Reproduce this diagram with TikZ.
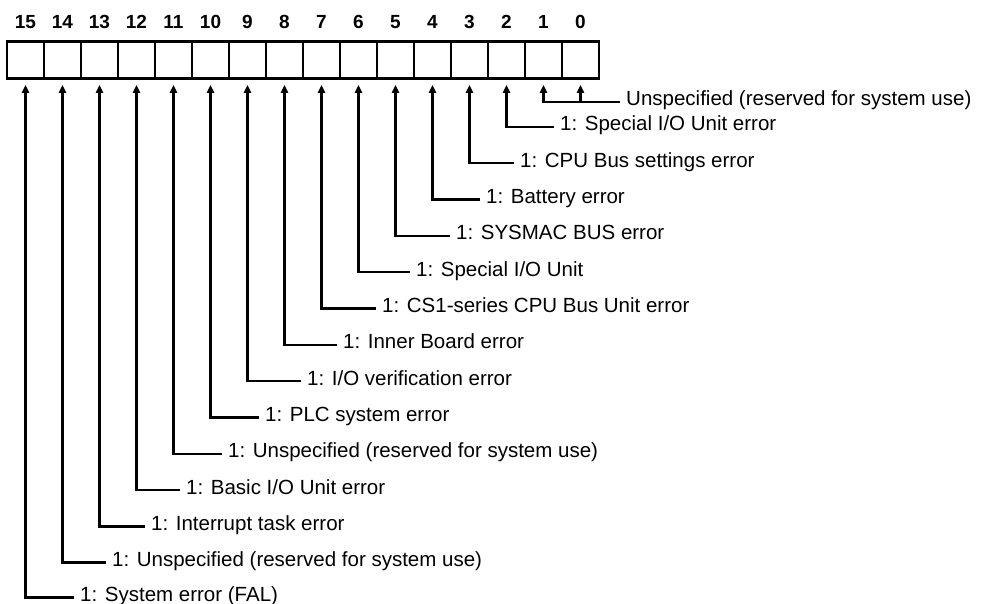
\documentclass[tikz,border=0pt]{standalone}
\usepackage{fontspec}
\setmainfont{Liberation Sans}
\usetikzlibrary{positioning, arrows.meta}
\tikzset{
	>={Triangle[length=8pt,width=7pt]},
	bitbox/.style={draw, line width=2.6pt, minimum width=37pt, minimum height=37pt, inner sep=0pt},
	bitnum/.style={font=\fontsize{19}{22}\selectfont\bfseries, inner sep=0pt},
	lbl/.style={anchor=west, font=\fontsize{20.5}{24}\selectfont, inner xsep=6pt, inner ysep=0pt, text height=14pt, text depth=6pt},
	bitline/.style={->, line width=2.4pt, shorten >=5pt},
}

\begin{document}
\begin{tikzpicture}[x=1pt, y=-1pt]
\useasboundingbox (0,0) rectangle (1000,604);

% --- Register boxes ---
\node[bitbox] (b15) at (25.5,60) {};
\node[bitbox] (b14) at (62.5,60) {};
\node[bitbox] (b13) at (99.5,60) {};
\node[bitbox] (b12) at (136.5,60) {};
\node[bitbox] (b11) at (173.5,60) {};
\node[bitbox] (b10) at (210.5,60) {};
\node[bitbox] (b9) at (247.5,60) {};
\node[bitbox] (b8) at (284.5,60) {};
\node[bitbox] (b7) at (321.5,60) {};
\node[bitbox] (b6) at (358.5,60) {};
\node[bitbox] (b5) at (395.5,60) {};
\node[bitbox] (b4) at (432.5,60) {};
\node[bitbox] (b3) at (469.5,60) {};
\node[bitbox] (b2) at (506.5,60) {};
\node[bitbox] (b1) at (543.5,60) {};
\node[bitbox] (b0) at (580.5,60) {};

% --- Bit numbers ---
\node[bitnum, above=11pt of b15] (n15) {15};
\node[bitnum, above=11pt of b14] (n14) {14};
\node[bitnum, above=11pt of b13] (n13) {13};
\node[bitnum, above=11pt of b12] (n12) {12};
\node[bitnum, above=11pt of b11] (n11) {11};
\node[bitnum, above=11pt of b10] (n10) {10};
\node[bitnum, above=11pt of b9] (n9) {9};
\node[bitnum, above=11pt of b8] (n8) {8};
\node[bitnum, above=11pt of b7] (n7) {7};
\node[bitnum, above=11pt of b6] (n6) {6};
\node[bitnum, above=11pt of b5] (n5) {5};
\node[bitnum, above=11pt of b4] (n4) {4};
\node[bitnum, above=11pt of b3] (n3) {3};
\node[bitnum, above=11pt of b2] (n2) {2};
\node[bitnum, above=11pt of b1] (n1) {1};
\node[bitnum, above=11pt of b0] (n0) {0};

% --- Labels ---
\node[lbl] (l0) at (620,102) {Unspecified (reserved for system use)};
\node[lbl] (l2) at (554,127) {1: Special I/O Unit error};
\node[lbl] (l3) at (514,163.3) {1: CPU Bus settings error};
\node[lbl] (l4) at (480,199.6) {1: Battery error};
\node[lbl] (l5) at (450,235.9) {1: SYSMAC BUS error};
\node[lbl] (l6) at (410,272.2) {1: Special I/O Unit};
\node[lbl] (l7) at (376,308.5) {1: CS1-series CPU Bus Unit error};
\node[lbl] (l8) at (337,344.8) {1: Inner Board error};
\node[lbl] (l9) at (301,381.1) {1: I/O verification error};
\node[lbl] (l10) at (259,417.4) {1: PLC system error};
\node[lbl] (l11) at (222,453.7) {1: Unspecified (reserved for system use)};
\node[lbl] (l12) at (180,490) {1: Basic I/O Unit error};
\node[lbl] (l13) at (145,526.3) {1: Interrupt task error};
\node[lbl] (l14) at (106,562.6) {1: Unspecified (reserved for system use)};
\node[lbl] (l15) at (74,597.5) {1: System error (FAL)};

% --- Connectors ---
\draw[bitline] (l0.west) -| (b1.south);
\draw[bitline] (b0.south |- l0.west) -- (b0.south);
\draw[bitline] (l2.west) -| (b2.south);
\draw[bitline] (l3.west) -| (b3.south);
\draw[bitline] (l4.west) -| (b4.south);
\draw[bitline] (l5.west) -| (b5.south);
\draw[bitline] (l6.west) -| (b6.south);
\draw[bitline] (l7.west) -| (b7.south);
\draw[bitline] (l8.west) -| (b8.south);
\draw[bitline] (l9.west) -| (b9.south);
\draw[bitline] (l10.west) -| (b10.south);
\draw[bitline] (l11.west) -| (b11.south);
\draw[bitline] (l12.west) -| (b12.south);
\draw[bitline] (l13.west) -| (b13.south);
\draw[bitline] (l14.west) -| (b14.south);
\draw[bitline] (l15.west) -| (b15.south);
\end{tikzpicture}
\end{document}
